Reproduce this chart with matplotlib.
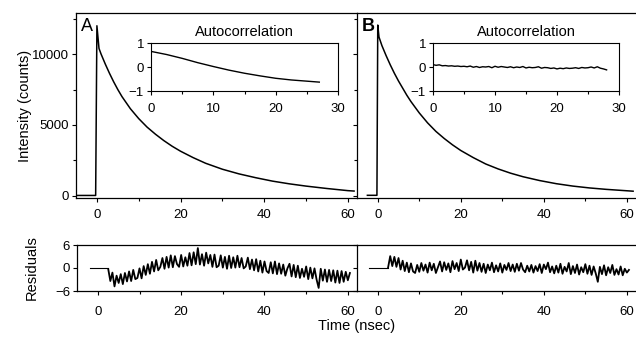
import numpy as np
import matplotlib
matplotlib.use("Agg")
import matplotlib.pyplot as plt
from matplotlib.ticker import MultipleLocator

plt.rcParams['font.family'] = ['Liberation Sans', 'DejaVu Sans']

# decay curves (time in nsec, intensity in counts)
decay_a_t = [-5, -0.3, 0, 0.5, 1, 2, 3, 4, 5, 6, 8, 10, 12, 14, 16, 18, 20,
             23, 26, 30, 34, 38, 42, 46, 50, 55, 60, 61.5]
decay_a_i = [30, 30, 12000, 10400, 10000, 9300, 8650, 8050, 7500, 7000, 6150, 5450,
             4850, 4350, 3900, 3500, 3150, 2700, 2300, 1880, 1550, 1280, 1040, 850,
             690, 520, 370, 340]

decay_b_t = [-2.5, -0.2, 0, 0.3, 1, 2, 3, 4, 5, 6, 7, 8, 10, 12, 14, 16, 18, 20,
             23, 26, 29, 32, 35, 39, 43, 47, 51, 55, 60, 61.5]
decay_b_i = [40, 40, 12050, 11200, 10600, 9900, 9250, 8650, 8100, 7600, 7100, 6650,
             5850, 5150, 4550, 4050, 3600, 3200, 2700, 2250, 1900, 1600, 1350, 1080,
             860, 690, 560, 460, 360, 330]

# autocorrelation insets
acf_a_t = [0, 2.5, 5, 7.5, 10, 12.5, 15, 17.5, 20, 22.5, 25, 27]
acf_a = [0.65, 0.52, 0.36, 0.18, 0.02, -0.13, -0.26, -0.37, -0.47, -0.54, -0.59, -0.63]

acf_b = [0.10, 0.07, 0.09, 0.05, 0.06, 0.04, 0.05, 0.03, 0.04, 0.02, 0.03, 0.01, 0.04,
         -0.01, 0.02, -0.02, 0.01, 0.0, 0.02, -0.03, 0.03, -0.01, 0.02, 0.0, -0.02, 0.01,
         -0.03, 0.0, -0.02, 0.02, -0.04, -0.01, -0.03, -0.02, 0.01, -0.05, -0.02, -0.03,
         -0.06, -0.04, -0.08, -0.05, -0.07, -0.04, -0.06, -0.05, -0.03, -0.06, -0.02,
         -0.04, -0.03, 0.0, -0.04, 0.01, -0.05, -0.08, -0.12]

# residuals: flat part before the pulse, then one reading every 0.5 ns from 2.5 ns
res_flat_t = [-2.0, 2.5]
res_a = [-0.3, -3.4, -1.2, -4.8, -2.0, -3.9, -1.6, -4.2, -1.3, -3.5,
         -0.9, -3.4, -0.5, -2.9, -2.6, -0.1, -2.7, 0.5, -1.8, 1.0,
         -1.5, 1.6, -0.9, 2.1, -0.6, 0.3, 2.6, -0.2, 2.9, 0.1,
         3.3, 0.2, 3.1, 1.0, 0.3, 3.4, 0.4, 2.8, 0.6, 3.9,
         0.7, 4.1, 1.0, 5.2, 0.9, 3.6, 0.6, 4.0, 1.2, 3.4,
         0.3, 3.5, 0.2, 0.6, 3.3, 0.1, 2.9, -0.2, 3.2, 0.0,
         2.8, 0.1, 3.2, 0.2, 2.6, -0.1, 0.4, 2.7, -0.3, 2.2,
         -0.6, 2.3, -0.9, 1.9, -1.2, 1.7, -0.8, -1.3, 1.5, -1.4,
         1.7, -1.6, 1.2, -1.5, 0.9, -2.0, -0.1, 1.1, -2.2, 0.8,
         -2.4, 0.6, -2.6, -0.2, -2.3, 0.4, -2.9, 0.1, -2.7, -0.1,
         -3.0, -5.2, -0.2, -3.3, -0.4, -3.6, -0.5, -3.4, -0.6, -3.8,
         -0.7, -3.9, -0.8, -3.6, -1.0, -3.2, -1.3]
res_b = [0.2, 3.1, 0.5, 2.9, 0.3, 2.6, -0.4, 1.9, -0.8, 1.4,
         -1.1, 1.2, -0.9, -1.3, 0.8, -1.0, 1.3, -0.7, 0.9, -1.2,
         1.4, -0.6, 1.1, -1.3, 0.2, 1.7, -0.9, 1.5, -0.5, 1.2,
         -1.1, 1.8, -0.3, 1.3, -0.8, 2.2, -0.4, 0.1, 2.0, -0.6,
         1.6, -1.2, 1.9, -0.7, 1.3, -1.0, 1.1, -1.3, 0.9, -0.6,
         1.4, -1.1, 0.7, -0.9, 1.2, -1.2, 0.8, -0.5, 1.3, -0.8,
         0.9, -1.0, 1.1, -0.7, 1.3, -0.4, -1.1, 0.6, -0.9, 0.8,
         -1.2, 0.5, -0.8, 1.0, -1.3, 0.9, -0.3, 1.4, -1.1, 0.4,
         -1.4, 0.6, -1.2, 1.1, -1.5, 0.3, -0.9, 1.3, -1.6, 0.5,
         -1.3, 0.9, -1.7, 0.2, -1.1, 1.0, -1.5, 0.6, -1.8, 0.4,
         -1.4, -3.6, 0.3, -1.6, 0.7, -1.9, 0.2, -1.3, 0.8, -1.8,
         -0.3, -1.7, 0.4, -1.9, -0.2, -1.2, -0.5]

res_t = 2.5 + 0.5 * np.arange(len(res_a))
acf_b_t = 0.5 * np.arange(len(acf_b))

fig = plt.figure(figsize=(6.36, 3.37), dpi=100)
W, H = 636.0, 337.0

def box(x0, y0, x1, y1):
    # pixel box (top-left origin) -> figure fraction
    return [x0 / W, 1 - y1 / H, (x1 - x0) / W, (y1 - y0) / H]

ax_a = fig.add_axes(box(76, 13, 357, 198))
ax_b = fig.add_axes(box(357, 13, 636, 198))
rs_a = fig.add_axes(box(77, 245, 357, 291))
rs_b = fig.add_axes(box(357, 245, 636, 291))
in_a = fig.add_axes(box(151, 43, 338, 91))
in_b = fig.add_axes(box(433, 43, 619, 91))

tick_kw = dict(direction='out', labelsize=9.5, width=0.8, pad=2)

for ax in (ax_a, ax_b):
    ax.set_xlim(-5, 62.2)
    ax.set_ylim(-150, 12900)
    ax.xaxis.set_major_locator(MultipleLocator(20))
    ax.xaxis.set_minor_locator(MultipleLocator(10))
    ax.yaxis.set_major_locator(MultipleLocator(5000))
    ax.yaxis.set_minor_locator(MultipleLocator(2500))
    ax.tick_params(which='major', length=3, **tick_kw)
    ax.tick_params(which='minor', length=2, direction='out', width=0.8)
    ax.tick_params(axis='x', pad=5)
    ax.spines['right'].set_visible(False)
    for s in ax.spines.values():
        s.set_linewidth(0.9)

ax_a.plot(decay_a_t, decay_a_i, color='black', lw=1.1)
ax_b.plot(decay_b_t, decay_b_i, color='black', lw=1.1)
ax_b.tick_params(axis='y', labelleft=False)
ax_a.set_ylabel('Intensity (counts)', fontsize=10.5)
ax_a.yaxis.set_label_coords(-0.158, 0.5)
ax_a.text(0.018, 0.975, 'A', transform=ax_a.transAxes, fontsize=13, va='top', ha='left')
ax_b.text(0.018, 0.975, 'B', transform=ax_b.transAxes, fontsize=13, va='top', ha='left',
          fontweight='bold')

for rs, vals in ((rs_a, res_a), (rs_b, res_b)):
    rs.plot(res_flat_t, [0, 0], color='black', lw=0.8)
    rs.plot(res_t, vals, color='black', lw=1.3)
    rs.set_xlim(-5, 62.2)
    rs.set_ylim(-6, 6)
    rs.set_yticks([-6, 0, 6])
    rs.xaxis.set_major_locator(MultipleLocator(20))
    rs.xaxis.set_minor_locator(MultipleLocator(10))
    rs.tick_params(which='major', length=3, **tick_kw)
    rs.tick_params(which='minor', length=2, direction='out', width=0.8)
    rs.tick_params(axis='x', pad=8)
    rs.spines['right'].set_visible(False)
    for s in rs.spines.values():
        s.set_linewidth(0.9)
rs_b.tick_params(axis='y', labelleft=False)
rs_a.set_ylabel('Residuals', fontsize=10.5)
rs_a.yaxis.set_label_coords(-0.135, 0.5)
fig.text(357 / W, 1 - 326 / H, 'Time (nsec)', fontsize=10.5, ha='center', va='center')

for inn, t, v in ((in_a, acf_a_t, acf_a), (in_b, acf_b_t, acf_b)):
    inn.plot(t, v, color='black', lw=1.0)
    inn.set_xlim(0, 30)
    inn.set_ylim(-1, 1)
    inn.set_yticks([-1, 0, 1])
    inn.xaxis.set_major_locator(MultipleLocator(10))
    inn.xaxis.set_minor_locator(MultipleLocator(5))
    inn.tick_params(which='major', length=3, **tick_kw)
    inn.tick_params(which='minor', length=2, direction='out', width=0.8)
    inn.tick_params(axis='x', pad=6)
    for s in inn.spines.values():
        s.set_linewidth(0.8)
    inn.set_title('Autocorrelation', fontsize=10.5, pad=5)

fig.savefig('out.png', dpi=100)
